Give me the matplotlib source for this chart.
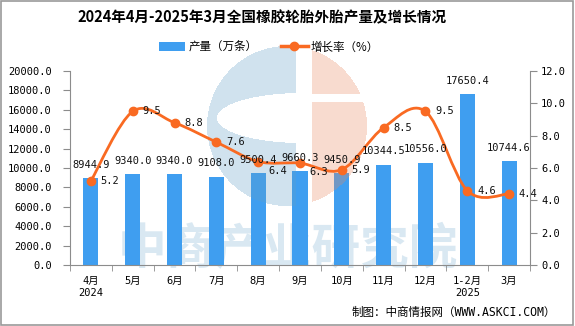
import numpy as np
import matplotlib
matplotlib.use("Agg")
import matplotlib.pyplot as plt
from matplotlib.path import Path
from matplotlib.patches import PathPatch, Patch, Rectangle
from matplotlib.lines import Line2D

plt.rcParams['font.family'] = ['DejaVu Sans Mono', 'Noto Sans CJK SC']

categories = ['4月\n2024', '5月', '6月', '7月', '8月', '9月', '10月', '11月', '12月', '1-2月\n2025', '3月']
production = [8944.9, 9340.0, 9340.0, 9108.0, 9500.4, 9660.3, 9450.9, 10344.5, 10556.0, 17650.4, 10744.6]
growth = [5.2, 9.5, 8.8, 7.6, 6.4, 6.3, 5.9, 8.5, 9.5, 4.6, 4.4]
left_ticks = [0, 2000, 4000, 6000, 8000, 10000, 12000, 14000, 16000, 18000, 20000]
right_ticks = [0, 2, 4, 6, 8, 10, 12]

BAR = '#3f9ef0'
LINE = '#f96a22'
GRAY = '#8c8c8c'
W, H = 575, 326

fig = plt.figure(figsize=(W / 100, H / 100), dpi=100)

# watermark text (under the chart)
fig.text(0.5, 1 - 250 / H, '中商产业研究院', ha='center', va='center', fontsize=35,
         fontweight='bold', color='#d9e8f2', family=['Noto Sans CJK SC'], zorder=-1)

ax = fig.add_axes([70 / W, 1 - 265 / H, 460 / W, 194 / H])
ax.set_zorder(1)
ax.patch.set_visible(False)

x = np.arange(len(categories))
ax.bar(x, production, width=0.36, color=BAR, zorder=2)
ax.set_xlim(-0.5, len(categories) - 0.5)
ax.set_ylim(0, 20000)
ax.set_yticks(left_ticks)
ax.set_yticklabels([f'{v:.1f}' for v in left_ticks])
ax.set_xticks(x)
ax.set_xticklabels(categories, fontsize=7.5, linespacing=1.25)
ax.set_xticks(np.arange(-0.5, len(categories)), minor=True)
ax.tick_params(axis='x', which='major', length=0, pad=8)
ax.tick_params(axis='x', which='minor', length=4, color=GRAY, direction='out')
ax.tick_params(axis='y', length=5, color=GRAY, direction='out', labelsize=7.5, pad=8)
for s in ['top', 'right']:
    ax.spines[s].set_visible(False)
for s in ['left', 'bottom']:
    ax.spines[s].set_color(GRAY)

ax2 = ax.twinx()
ax2.set_zorder(3)
ax2.patch.set_visible(False)
ax2.set_ylim(0, 12)
ax2.set_yticks(right_ticks)
ax2.set_yticklabels([f'{v:.1f}' for v in right_ticks])
ax2.tick_params(axis='y', length=5, color=GRAY, direction='out', labelsize=7.5, pad=3)
for s in ['top', 'left', 'bottom']:
    ax2.spines[s].set_visible(False)
ax2.spines['right'].set_color(GRAY)

# smooth line (Catmull-Rom bezier through data points)
pts = np.column_stack([x, growth]).astype(float)
ext = np.vstack([pts[0], pts, pts[-1]])
verts = [tuple(pts[0])]
codes = [Path.MOVETO]
for i in range(len(pts) - 1):
    p0, p1, p2, p3 = ext[i], ext[i + 1], ext[i + 2], ext[i + 3]
    c1 = p1 + (p2 - p0) / 6
    c2 = p2 - (p3 - p1) / 6
    verts += [tuple(c1), tuple(c2), tuple(p2)]
    codes += [Path.CURVE4] * 3
ax2.add_patch(PathPatch(Path(verts, codes), fill=False, edgecolor=LINE, lw=2.0,
                        capstyle='round', joinstyle='round', zorder=3))
ax2.plot(x, growth, 'o', color=LINE, ms=6, zorder=4)

# bar labels
for xi, v in zip(x, production):
    ax2.annotate(f'{v:.1f}', xy=(xi, v), xycoords=ax.transData, xytext=(0, 9.5),
                 textcoords='offset points', ha='center', va='center', fontsize=7.5,
                 color='#111111', zorder=5)
# growth labels
label_dy = {4: -6.5, 5: -6.5}
for i, (xi, v) in enumerate(zip(x, growth)):
    ax2.annotate(f'{v:.1f}', xy=(xi, v), xytext=(7, label_dy.get(i, 0)),
                 textcoords='offset points', ha='left', va='center', fontsize=7.5,
                 color='#111111', zorder=5)

# watermark logo overlay
yy, xx = np.mgrid[0:H, 0:W] + 0.5
circle = (xx - 287) ** 2 + (yy - 126) ** 2 <= 80 ** 2
hole = ((xx - 302) / 85) ** 2 + ((yy - 118) / 25) ** 2 <= 1
blue = circle & (xx < 296) & ~hole
orange = circle & (xx > 312) & ~((yy >= 94) & (yy <= 102))
rgba = np.zeros((H, W, 4))
rgba[blue] = [0.39, 0.63, 0.78, 0.3]
rgba[orange] = [0.92, 0.54, 0.37, 0.3]
ov = fig.add_axes([0, 0, 1, 1])
ov.set_zorder(2)
ov.imshow(rgba, extent=(0, W, H, 0), aspect='auto', interpolation='nearest')
ov.set_xlim(0, W)
ov.set_ylim(H, 0)
ov.axis('off')

# title
fig.text(0.456, 1 - 17 / H, '2024年4月-2025年3月全国橡胶轮胎外胎产量及增长情况', ha='center',
         va='center', fontsize=10.5, fontweight='bold', family=['Noto Sans CJK SC'])

# legend
handles = [Patch(facecolor=BAR, edgecolor='none'),
           Line2D([0], [0], color=LINE, lw=2.5, marker='o', ms=6)]
fig.legend(handles, ['产量（万条）', '增长率（%）'], loc='center', bbox_to_anchor=(0.468, 1 - 47 / H),
           ncol=2, frameon=False, handlelength=2.3, handletextpad=0.3,
           columnspacing=2.0, prop={'family': ['Noto Sans CJK SC'], 'size': 8.3})

# footer
fig.text(556 / W, 1 - 312 / H, '制图：中商情报网（WWW.ASKCI.COM）', ha='right', va='center',
         fontsize=8.3)

# border
fig.add_artist(Rectangle((0.001, 0.002), 0.996, 0.995, transform=fig.transFigure,
                         fill=False, edgecolor='#999999', lw=1.2))

fig.savefig('out.png', dpi=100)
